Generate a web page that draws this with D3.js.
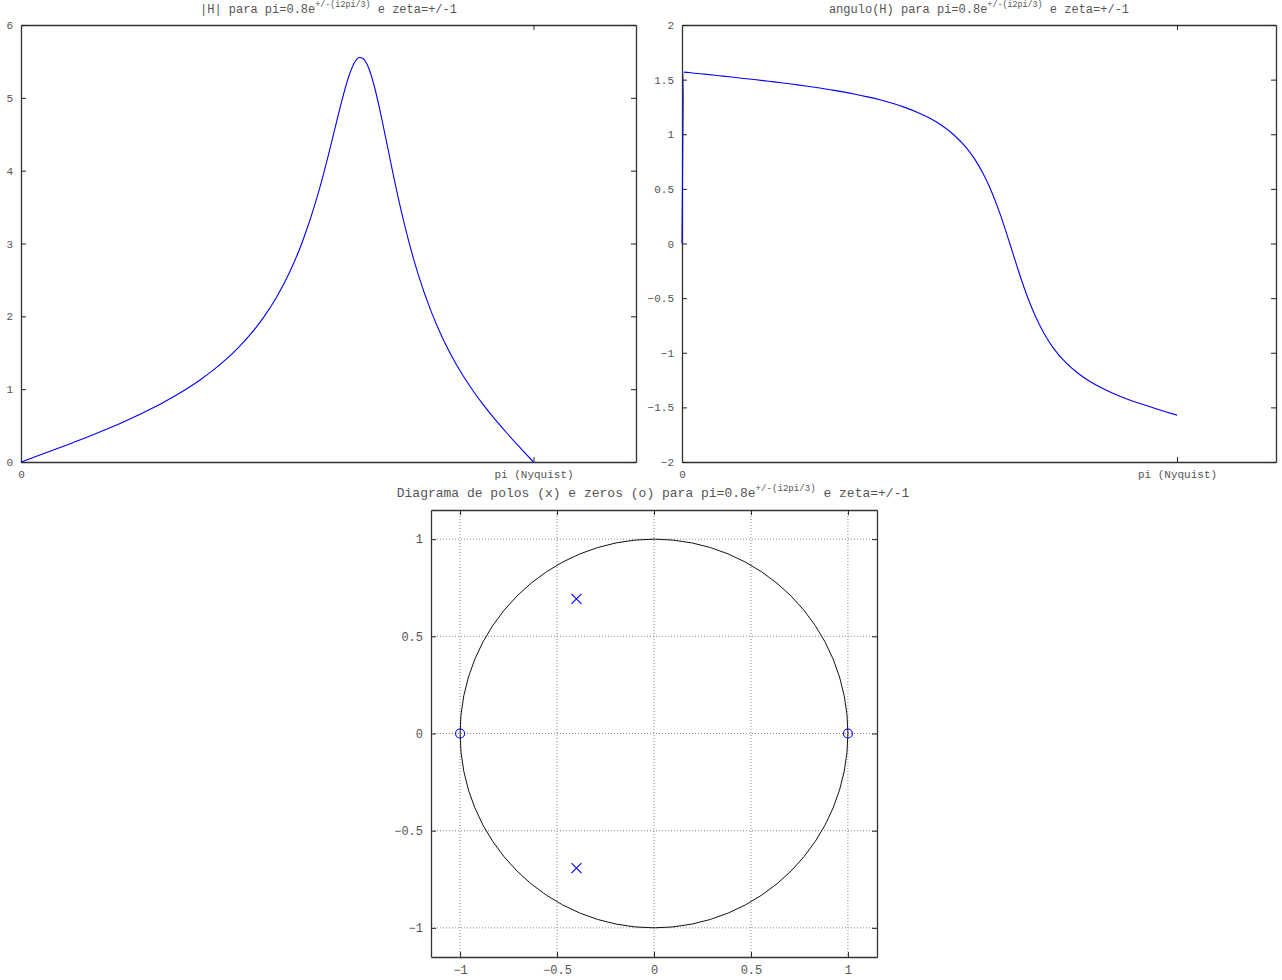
<!DOCTYPE html>
<html>
<head>
<meta charset="utf-8">
<script src="https://cdn.jsdelivr.net/npm/d3@7"></script>
<style>
  body { margin: 0; background: #fff; }
  svg { display: block; font-family: "Liberation Mono", "DejaVu Sans Mono", monospace; }
  .tick text { fill: #555; font-family: "Liberation Mono", monospace; }
  .domain { stroke: #333; }
  .tick line { stroke: #222; }
</style>
</head>
<body>
<svg id="chart" width="1282" height="980"></svg>
<script>
// frequency in units of pi (0 .. 1 = Nyquist)
const freq = [0, 0.004, 0.025, 0.05, 0.075, 0.1, 0.125, 0.15, 0.175, 0.2, 0.225, 0.25, 0.275, 0.3,
  0.325, 0.35, 0.375, 0.4, 0.425, 0.45, 0.475, 0.5, 0.525, 0.55, 0.575, 0.59, 0.6, 0.61, 0.62, 0.625,
  0.64, 0.65, 0.655, 0.66, 0.6667, 0.67, 0.675, 0.68, 0.69, 0.7, 0.71, 0.72, 0.725, 0.735, 0.75,
  0.775, 0.8, 0.825, 0.85, 0.875, 0.9, 0.925, 0.95, 0.975, 1];

// |H|
const magnitude = [0, 0.010, 0.064, 0.129, 0.195, 0.262, 0.330, 0.401, 0.474, 0.550, 0.630, 0.716, 0.807, 0.905,
  1.012, 1.130, 1.261, 1.408, 1.577, 1.772, 2.003, 2.280, 2.619, 3.042, 3.571, 3.947, 4.220, 4.505, 4.793, 4.932,
  5.303, 5.474, 5.527, 5.553, 5.544, 5.521, 5.463, 5.378, 5.142, 4.841, 4.506, 4.161, 3.991, 3.662, 3.210,
  2.575, 2.071, 1.666, 1.333, 1.051, 0.805, 0.584, 0.381, 0.188, 0];

// angulo(H)
const phase = [0, 1.569, 1.559, 1.548, 1.536, 1.524, 1.511, 1.499, 1.485, 1.472, 1.457, 1.442, 1.425, 1.407,
  1.388, 1.366, 1.342, 1.315, 1.283, 1.246, 1.202, 1.148, 1.080, 0.991, 0.873, 0.781, 0.708, 0.625, 0.530, 0.478,
  0.303, 0.171, 0.102, 0.031, -0.064, -0.112, -0.183, -0.254, -0.389, -0.513, -0.625, -0.724, -0.769, -0.851, -0.955,
  -1.089, -1.188, -1.266, -1.328, -1.380, -1.425, -1.465, -1.502, -1.537, -1.571];

// pole / zero positions (re, im)
const poles = [[-0.4, 0.6928], [-0.4, -0.6928]];
const zeros = [[-1, 0], [1, 0]];

const magTicks = [0, 1, 2, 3, 4, 5, 6];
const phaseTicks = [-2, -1.5, -1, -0.5, 0, 0.5, 1, 1.5, 2];
const pzTicks = [-1, -0.5, 0, 0.5, 1];
const freqTicks = [0, 1];
const freqLabels = ["0", "pi (Nyquist)"];

const svg = d3.select("#chart");
const blue = "#0000ff";
const fmt = d3.format("~g");

function title(g, x, y, pre, sup, post, size) {
  const t = g.append("text")
    .attr("x", x).attr("y", y)
    .attr("text-anchor", "middle")
    .style("font-size", size + "px")
    .attr("fill", "#555");
  t.append("tspan").text(pre);
  t.append("tspan").attr("dy", -6).style("font-size", (size * 0.7) + "px").text(sup);
  t.append("tspan").attr("dy", 6).text(post);
}

function styleAxis(sel, size) {
  sel.attr("font-family", null).style("font-size", size + "px");
}

function freqPanel(box, yDomain, yTicks, values, ttl) {
  const x = d3.scaleLinear().domain([0, 1.2]).range([box.x0, box.x1]);
  const y = d3.scaleLinear().domain(yDomain).range([box.y1, box.y0]);
  const g = svg.append("g");

  g.append("g")
    .attr("transform", `translate(0,${box.y1})`)
    .call(d3.axisBottom(x).tickValues(freqTicks).tickFormat((d, i) => freqLabels[i])
      .tickSize(-5).tickSizeOuter(0).tickPadding(8))
    .call(styleAxis, 11);
  g.append("g")
    .attr("transform", `translate(0,${box.y0})`)
    .call(d3.axisTop(x).tickValues(freqTicks).tickFormat("").tickSize(-5).tickSizeOuter(0));
  g.append("g")
    .attr("transform", `translate(${box.x0},0)`)
    .call(d3.axisLeft(y).tickValues(yTicks).tickFormat(fmt).tickSize(-5).tickSizeOuter(0).tickPadding(8))
    .call(styleAxis, 11);
  g.append("g")
    .attr("transform", `translate(${box.x1},0)`)
    .call(d3.axisRight(y).tickValues(yTicks).tickFormat("").tickSize(-5).tickSizeOuter(0));
  g.selectAll(".domain").attr("stroke-width", 1.3);

  const line = d3.line()
    .x((d, i) => x(freq[i]))
    .y(d => y(d))
    .curve(d3.curveMonotoneX);
  g.append("path")
    .datum(values)
    .attr("d", line)
    .attr("fill", "none")
    .attr("stroke", blue)
    .attr("stroke-width", 1.1);

  title(g, (box.x0 + box.x1) / 2, 13, ttl, "+/-(i2pi/3)", " e zeta=+/-1", 12);
}

freqPanel({ x0: 21, x1: 636, y0: 25, y1: 462 }, [0, 6], magTicks, magnitude, "|H| para pi=0.8e");
freqPanel({ x0: 682, x1: 1276, y0: 25, y1: 462 }, [-2, 2], phaseTicks, phase, "angulo(H) para pi=0.8e");

// pole-zero diagram
const pz = { x0: 431, x1: 877, y0: 510, y1: 957 };
const px = d3.scaleLinear().domain([-1.15, 1.15]).range([pz.x0, pz.x1]);
const py = d3.scaleLinear().domain([-1.15, 1.15]).range([pz.y1, pz.y0]);
const gp = svg.append("g");

// grid
gp.append("g").selectAll("line").data(pzTicks).join("line")
  .attr("x1", d => px(d)).attr("x2", d => px(d))
  .attr("y1", pz.y0).attr("y2", pz.y1)
  .attr("stroke", "#888").attr("stroke-dasharray", "1,2");
gp.append("g").selectAll("line").data(pzTicks).join("line")
  .attr("y1", d => py(d)).attr("y2", d => py(d))
  .attr("x1", pz.x0).attr("x2", pz.x1)
  .attr("stroke", "#888").attr("stroke-dasharray", "1,2");

gp.append("g")
  .attr("transform", `translate(0,${pz.y1})`)
  .call(d3.axisBottom(px).tickValues(pzTicks).tickFormat(fmt).tickSize(-5).tickSizeOuter(0).tickPadding(8))
  .call(styleAxis, 12);
gp.append("g")
  .attr("transform", `translate(0,${pz.y0})`)
  .call(d3.axisTop(px).tickValues(pzTicks).tickFormat("").tickSize(-5).tickSizeOuter(0));
gp.append("g")
  .attr("transform", `translate(${pz.x0},0)`)
  .call(d3.axisLeft(py).tickValues(pzTicks).tickFormat(fmt).tickSize(-5).tickSizeOuter(0).tickPadding(8))
  .call(styleAxis, 12);
gp.append("g")
  .attr("transform", `translate(${pz.x1},0)`)
  .call(d3.axisRight(py).tickValues(pzTicks).tickFormat("").tickSize(-5).tickSizeOuter(0));
gp.selectAll(".domain").attr("stroke-width", 1.3);

// unit circle
gp.append("ellipse")
  .attr("cx", px(0)).attr("cy", py(0))
  .attr("rx", px(1) - px(0)).attr("ry", py(0) - py(1))
  .attr("fill", "none").attr("stroke", "#111").attr("stroke-width", 1);

gp.selectAll(".zero").data(zeros).join("circle")
  .attr("class", "zero")
  .attr("cx", d => px(d[0])).attr("cy", d => py(d[1]))
  .attr("r", 4.5)
  .attr("fill", "none").attr("stroke", blue).attr("stroke-width", 1.1);

gp.selectAll(".pole").data(poles).join("path")
  .attr("class", "pole")
  .attr("transform", d => `translate(${px(d[0])},${py(d[1])})`)
  .attr("d", "M-5,-5L5,5M-5,5L5,-5")
  .attr("stroke", blue).attr("stroke-width", 1.1);

title(gp, 653, 497, "Diagrama de polos (x) e zeros (o) para pi=0.8e", "+/-(i2pi/3)", " e zeta=+/-1", 13);
</script>
</body>
</html>
